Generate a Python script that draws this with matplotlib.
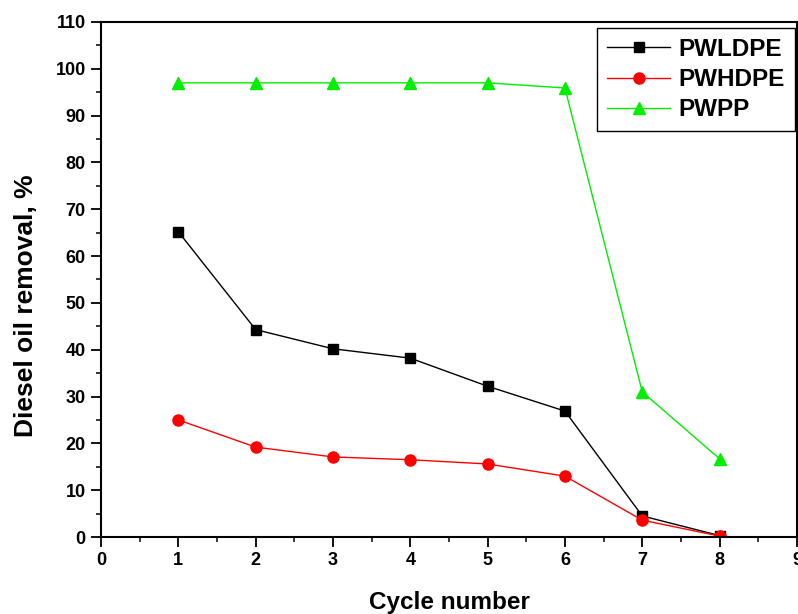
import matplotlib
matplotlib.use("Agg")
import matplotlib.pyplot as plt
from matplotlib.ticker import MultipleLocator

cycles = [1, 2, 3, 4, 5, 6, 7, 8]
pwldpe = [65.2, 44.3, 40.2, 38.2, 32.2, 26.9, 4.5, 0.3]
pwhdpe = [25.0, 19.2, 17.1, 16.5, 15.6, 13.0, 3.6, 0.2]
pwpp = [97.0, 97.0, 97.0, 97.0, 97.0, 95.9, 31.0, 16.7]

plt.rcParams['font.family'] = ['Liberation Sans', 'DejaVu Sans']
plt.rcParams['font.weight'] = 'bold'

fig = plt.figure(figsize=(7.98, 6.14), dpi=100)
ax = fig.add_axes([0.1266, 0.1254, 0.872, 0.8388])

ax.plot(cycles, pwldpe, color='black', marker='s', markersize=7, lw=1.0, label='PWLDPE')
ax.plot(cycles, pwhdpe, color='red', marker='o', markersize=8, lw=1.0, label='PWHDPE')
ax.plot(cycles, pwpp, color='#00ee00', marker='^', markersize=9, lw=1.0, label='PWPP')

ax.set_xlim(0, 9)
ax.set_ylim(0, 110)
ax.xaxis.set_major_locator(MultipleLocator(1))
ax.xaxis.set_minor_locator(MultipleLocator(0.5))
ax.yaxis.set_major_locator(MultipleLocator(10))
ax.yaxis.set_minor_locator(MultipleLocator(5))
ax.tick_params(which='major', direction='out', length=7, width=1.3, labelsize=13, pad=4)
ax.tick_params(which='minor', direction='out', length=3.5, width=1.1)
for s in ax.spines.values():
    s.set_linewidth(1.5)
for lab in ax.get_xticklabels() + ax.get_yticklabels():
    lab.set_fontweight('bold')

ax.set_xlabel('Cycle number', fontsize=17.5, fontweight='bold')
ax.xaxis.set_label_coords(0.5, -0.104)
ax.set_ylabel('Diesel oil removal, %', fontsize=19, fontweight='bold')
ax.yaxis.set_label_coords(-0.091, 0.449)

leg = ax.legend(loc='upper right', bbox_to_anchor=(0.997, 0.988), fancybox=False,
                edgecolor='black', framealpha=1, prop={'weight': 'bold', 'size': 17.5},
                handlelength=2.6, handletextpad=0.35, borderpad=0.4, labelspacing=0.3,
                borderaxespad=0)
leg.get_frame().set_linewidth(1.0)

fig.savefig('out.png', dpi=100)
